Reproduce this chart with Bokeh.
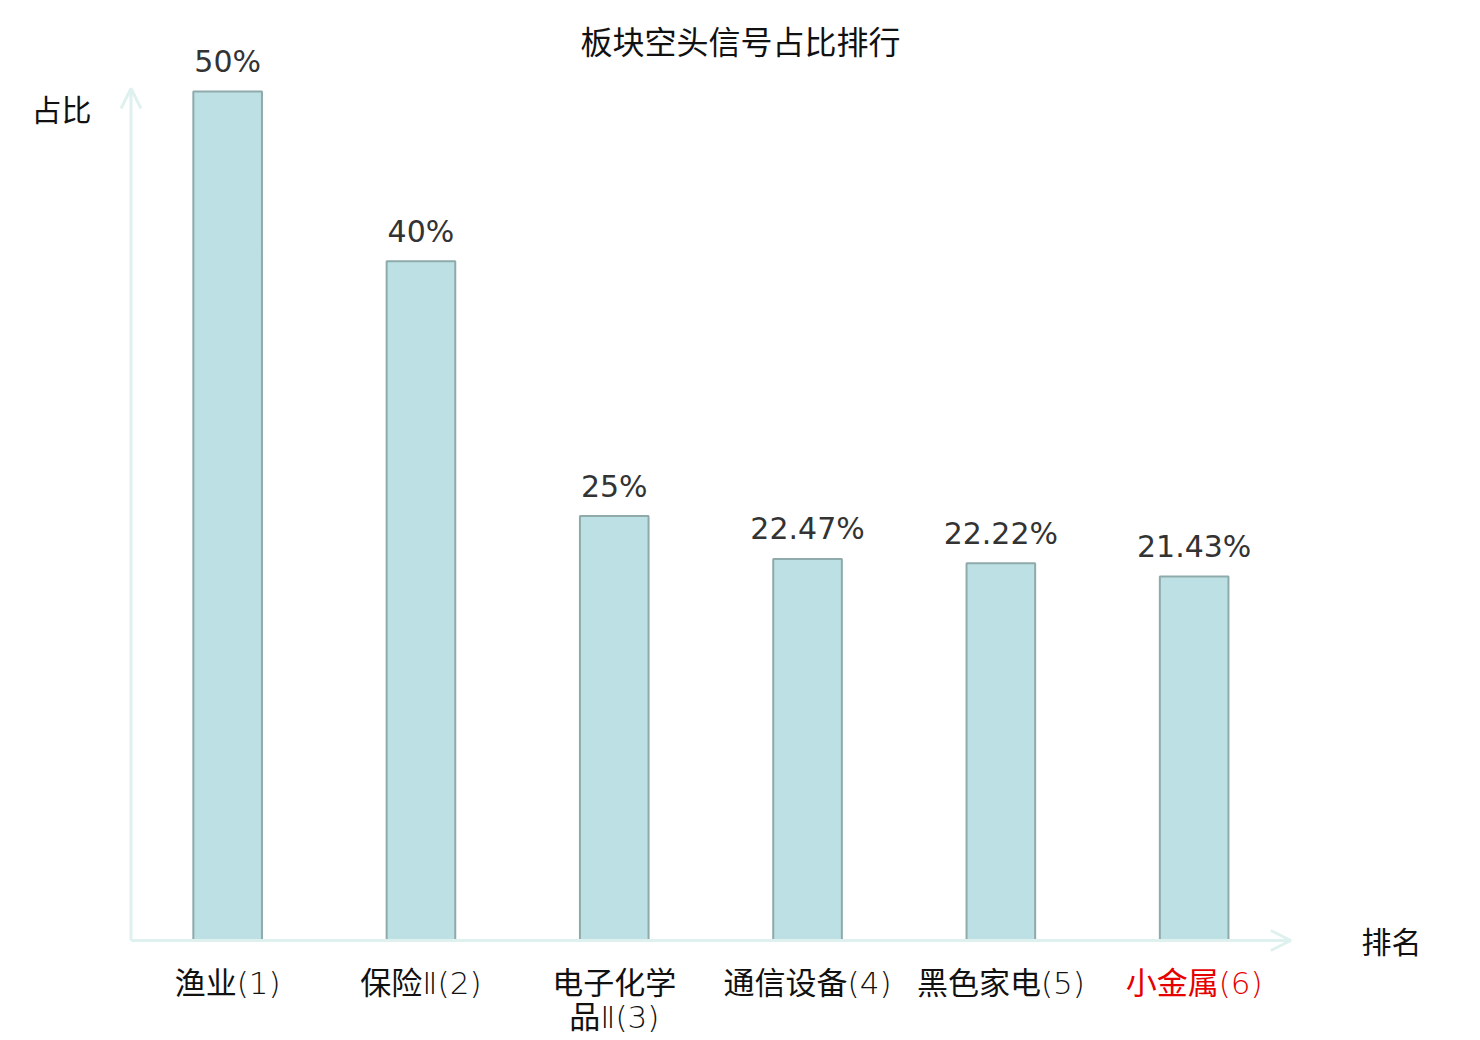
from bokeh.plotting import figure
from bokeh.models import Range1d, Arrow, OpenHead, Label
from bokeh.core.properties import value
from bokeh.embed import file_html
from bokeh.resources import INLINE

title_text = "板块空头信号占比排行"
categories = ["渔业(1)", "保险Ⅱ(2)", "电子化学\n品Ⅱ(3)", "通信设备(4)", "黑色家电(5)", "小金属(6)"]
shares = [50, 40, 25, 22.47, 22.22, 21.43]
share_labels = ["50%", "40%", "25%", "22.47%", "22.22%", "21.43%"]
label_colors = ["#111111", "#111111", "#111111", "#111111", "#111111", "#e60000"]
y_axis_title = "占比"
x_axis_title = "排名"

W, H = 1440, 1040
X0_PX, X_UNIT = 130.5, 193.3
Y0_PX, Y_UNIT = 940.0, 16.98


def xd(px):
    return (px - X0_PX) / X_UNIT


def yd(py):
    return (Y0_PX - py) / Y_UNIT


CJK = "Noto Sans CJK SC"
NUM = "DejaVu Sans"
LBL = "DejaVu Sans ExtraLight, DejaVu Sans Light, Noto Sans CJK SC"
AXIS_COLOR = "#dff1ee"

p = figure(width=W, height=H, output_backend="svg", toolbar_location=None,
           x_range=Range1d(xd(0), xd(W)), y_range=Range1d(yd(H), yd(0)),
           x_axis_location=None, y_axis_location=None, min_border=0)
p.outline_line_color = None
p.grid.visible = False
p.background_fill_color = "white"

xs = [i + 0.5 for i in range(len(categories))]

# axes with arrows
p.add_layout(Arrow(x_start=0, y_start=0, x_end=len(categories), y_end=0,
                   line_color=AXIS_COLOR, line_width=3,
                   end=OpenHead(size=20, line_color=AXIS_COLOR, line_width=3)))
p.add_layout(Arrow(x_start=0, y_start=0, x_end=0, y_end=yd(88),
                   line_color=AXIS_COLOR, line_width=3,
                   end=OpenHead(size=20, line_color=AXIS_COLOR, line_width=3)))

p.vbar(x=xs, top=shares, bottom=0, width=0.355,
       fill_color="#bce0e3", line_color="#8eaaab", line_width=2)

p.text(x=xs, y=shares, text=share_labels, y_offset=-30,
       text_align="center", text_baseline="alphabetic",
       text_font=value(NUM), text_font_size="30px", text_color="#333333")

p.text(x=xs, y=[yd(964)] * len(xs), text=categories,
       text_align="center", text_baseline="top", text_line_height=0.97,
       text_font=value(LBL), text_font_size="31px", text_color=label_colors)

p.add_layout(Label(x=xd(740), y=yd(39), text=title_text, text_align="center",
                   text_baseline="middle", text_font=CJK, text_font_size="32px",
                   text_color="#111111"))
p.add_layout(Label(x=xd(61), y=yd(107), text=y_axis_title, text_align="center",
                   text_baseline="middle", text_font=CJK, text_font_size="30px",
                   text_color="#111111"))
p.add_layout(Label(x=xd(1391), y=yd(939), text=x_axis_title, text_align="center",
                   text_baseline="middle", text_font=CJK, text_font_size="30px",
                   text_color="#111111"))

open("out.html", "w").write(file_html(p, INLINE))
